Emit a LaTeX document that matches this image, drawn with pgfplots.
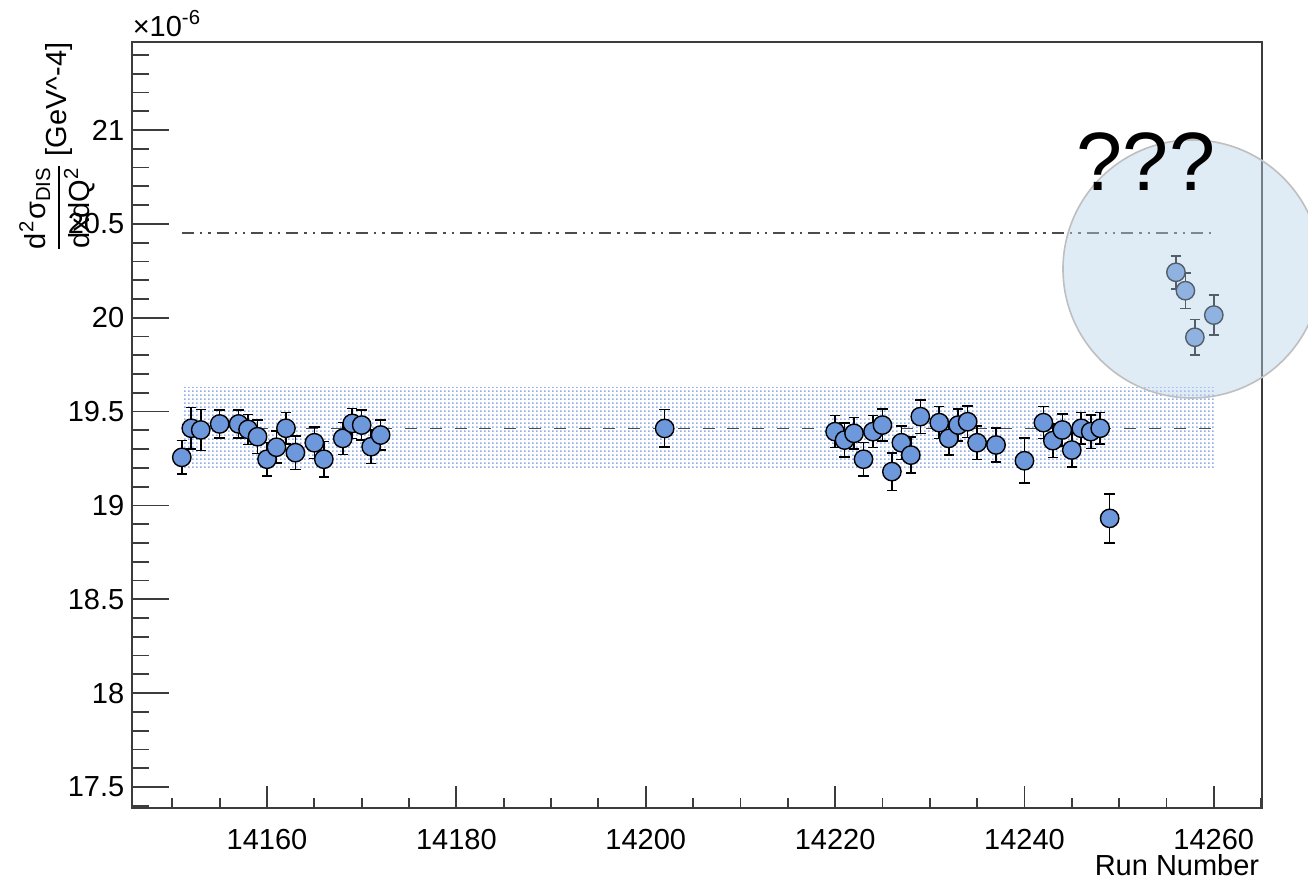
\documentclass[border=0pt]{standalone}
\usepackage{amsmath}
\usepackage{fontspec}
\setmainfont{Liberation Sans}
\usepackage{pgfplots}
\usepackage{pgfplotstable}
\pgfplotsset{compat=1.18}
\usetikzlibrary{patterns}

% fine dotted fill used for the +-1 sigma band
\pgfdeclarepatternformonly{fine dots}{\pgfpointorigin}{\pgfpoint{1pt}{1pt}}{\pgfpoint{1pt}{1pt}}{%
  \pgfpathrectangle{\pgfpointorigin}{\pgfpoint{0.5pt}{0.5pt}}\pgfusepath{fill}}

\definecolor{markerblue}{RGB}{110,152,220}
\definecolor{bandblue}{RGB}{145,172,232}
\definecolor{bubble}{RGB}{185,210,232}
\definecolor{framegray}{RGB}{60,60,60}

% cross section per run (units of 1e-6 GeV^-4)
\pgfplotstableread{
run   value   err
14151 19.256 0.090
14152 19.411 0.110
14153 19.402 0.110
14155 19.434 0.075
14157 19.434 0.075
14158 19.405 0.080
14159 19.366 0.090
14160 19.246 0.090
14161 19.310 0.085
14162 19.411 0.085
14163 19.281 0.090
14165 19.334 0.085
14166 19.246 0.095
14168 19.357 0.085
14169 19.437 0.080
14170 19.428 0.080
14171 19.313 0.090
14172 19.375 0.080
14202 19.410 0.100
14220 19.393 0.085
14221 19.348 0.090
14222 19.384 0.085
14223 19.246 0.090
14224 19.393 0.085
14225 19.428 0.085
14226 19.180 0.100
14227 19.334 0.090
14228 19.268 0.095
14229 19.473 0.090
14231 19.441 0.085
14232 19.357 0.090
14233 19.428 0.085
14234 19.446 0.085
14235 19.334 0.090
14237 19.322 0.090
14240 19.238 0.120
14242 19.441 0.085
14243 19.345 0.090
14244 19.402 0.085
14245 19.295 0.090
14246 19.411 0.085
14247 19.393 0.090
14248 19.411 0.085
14249 18.931 0.130
14256 20.242 0.088
14257 20.144 0.094
14258 19.896 0.095
14260 20.014 0.107
}\runtable

\newcommand{\lblfont}{\fontsize{7.25}{8.7}\selectfont}

\begin{document}
\begin{tikzpicture}
\useasboundingbox (-33pt,-19pt) rectangle (294pt,202pt);

% main axis: data, frame and run-number ticks
\begin{axis}[
  at={(0pt,0pt)}, anchor=south west,
  scale only axis, width=282.5pt, height=191.5pt,
  xmin=14145.74, xmax=14265.09, ymin=17.388, ymax=21.469,
  axis line style={framegray, line width=0.55pt},
  tick pos=left, tick align=inside,
  xtick={14160,14180,...,14260},
  minor xtick={14150,14155,...,14265},
  ytick=\empty,
  scaled x ticks=false,
  major tick length=5.5pt, minor tick length=2.6pt,
  tick style={framegray, line width=0.45pt},
  xticklabel style={font=\lblfont, anchor=base, yshift=-10.4pt},
  /pgf/number format/set thousands separator={},
  /pgf/number format/assume math mode=true,
]
  % mean +- spread band
  \addplot[draw=none, pattern=fine dots, pattern color=bandblue]
    coordinates {(14151,19.19) (14260,19.19) (14260,19.63) (14151,19.63) (14151,19.19)};
  % mean value
  \addplot[black!70, line width=0.4pt, dash pattern=on 3pt off 3.2pt]
    coordinates {(14151,19.41) (14260,19.41)};
  % reference value
  \addplot[black!70, line width=0.45pt,
           dash pattern=on 3pt off 1.5pt on 0.6pt off 1.5pt on 0.6pt off 1.5pt]
    coordinates {(14151,20.45) (14260,20.45)};
  % per-run points
  \addplot[only marks, mark=*, mark size=2.3pt,
           mark options={fill=markerblue, draw=black, line width=0.35pt},
           error bars/.cd, y dir=both, y explicit,
           error bar style={black, line width=0.4pt},
           error mark options={black, line width=0.4pt, mark size=1.3pt, rotate=90}]
    table[x=run, y=value, y error=err] {\runtable};
\end{axis}

% second axis: longer cross-section ticks on the left
\begin{axis}[
  at={(0pt,0pt)}, anchor=south west,
  scale only axis, width=282.5pt, height=191.5pt,
  xmin=14145.74, xmax=14265.09, ymin=17.388, ymax=21.469,
  axis line style={draw=none},
  tick pos=left, tick align=inside,
  xtick=\empty,
  ytick={17.5,18,18.5,19,19.5,20,20.5,21},
  yticklabels={17.5,18,18.5,19,19.5,20,20.5,21},
  minor ytick={17.4,17.6,17.7,17.8,17.9,18.1,18.2,18.3,18.4,18.6,18.7,18.8,18.9,
               19.1,19.2,19.3,19.4,19.6,19.7,19.8,19.9,20.1,20.2,20.3,20.4,
               20.6,20.7,20.8,20.9,21.1,21.2,21.3,21.4},
  major tick length=9.2pt, minor tick length=4.2pt,
  tick style={framegray, line width=0.45pt},
  yticklabel style={font=\lblfont, anchor=east, inner sep=0pt, xshift=-1.75pt},
]
\end{axis}

% exponent and axis titles
\node[anchor=base west, font=\lblfont, inner sep=0pt] at (0pt,192.75pt)
  {×10\textsuperscript{-6}};
\node[anchor=base east, font=\lblfont, inner sep=0pt] at (282pt,-16.9pt) {Run Number};
\node[rotate=90, anchor=east, font=\lblfont, inner sep=0pt] at (-18.75pt,191.5pt)
  {$\dfrac{\text{d}^{\text{2}}\text{σ}_{\text{DIS}}}{\text{dxdQ}^{\text{2}}}$\,[GeV\textasciicircum-4]};

% highlight around the last runs
\fill[bubble, fill opacity=0.45] (265pt,134.75pt) circle (32.25pt);
\draw[black!25, line width=0.4pt] (265pt,134.75pt) circle (32.25pt);
\node[font=\fontsize{20.7}{24}\selectfont, inner sep=0pt] at (253.5pt,161.5pt) {???};
\end{tikzpicture}
\end{document}
